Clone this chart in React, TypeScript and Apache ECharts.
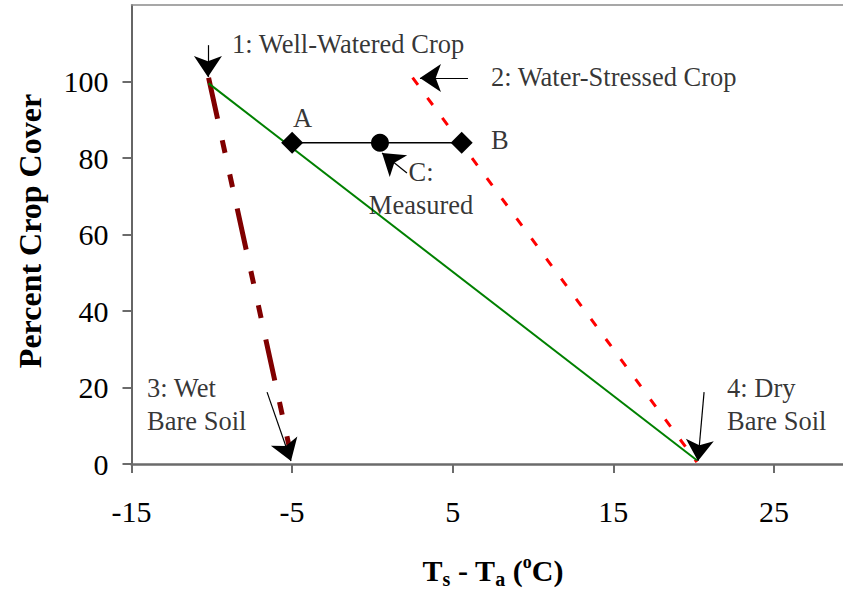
import React, { useEffect, useRef } from 'react';
import * as echarts from 'echarts';

const FONT = 'Liberation Serif, Times New Roman, serif';

// axis ticks
const xTicks = [-15, -5, 5, 15, 25];
const yTicks = [0, 20, 40, 60, 80, 100];

// lines
const wellWateredToDry = [[-10.2, 99.5], [20.2, 1]]; // green 1 -> 4
const wellWateredToWet = [[-10.2, 101], [-5.1, 3]]; // dark red 1 -> 3
const stressedToDry = [[2.5, 101], [20.2, 0.5]]; // red 2 -> 4

// points
const pointA = [-5, 84];
const pointB = [5.56, 84];
const pointC = [0.47, 84];

// annotation texts
const annoTexts = ['1: Well-Watered Crop', '2: Water-Stressed Crop', 'A', 'B', 'C:\nMeasured', '3: Wet\nBare Soil', '4: Dry\nBare Soil'];
const annoX = [-8.74, 7.38, -4.94, 7.38, 3.03, -14.03, 22.08];
const annoY = [109.8, 101.2, 90.5, 84.7, 71.9, 15.6, 15.6];
const annoCenter = [false, false, false, false, true, false, false];

// arrows: tail -> tip
const arrowTails = [[-10.24, 109.5], [5.95, 100.9], [-6.56, 18.8], [20.65, 18.8], [2.15, 76.1]];
const arrowTips = [[-10.24, 101.2], [2.96, 100.9], [-5.07, 0.8], [20.27, 0.8], [0.6, 81.3]];

export default function App() {
  const ref = useRef<HTMLDivElement>(null);
  useEffect(() => {
    if (!ref.current) return;
    const chart = echarts.init(ref.current, null, { renderer: 'svg' });
    const gridLeft = 131.5;
    const gridTop = 5;
    const gridBottomY = 464;
    const xMin = -15, xMax = 29.3;
    const option: any = {
      animation: false,
      backgroundColor: '#fff',
      textStyle: { fontFamily: FONT },
      grid: {
        left: gridLeft,
        top: gridTop,
        right: 0,
        height: gridBottomY - gridTop,
        show: false,
      },
      xAxis: [
        {
          type: 'value',
          min: xMin,
          max: xMax,
          interval: 5,
          splitLine: { show: false },
          axisLine: { show: true, onZero: false, lineStyle: { color: '#6b6b6b', width: 2.5 } },
          axisTick: { show: true, length: 9, inside: false, customValues: xTicks, lineStyle: { color: '#6b6b6b', width: 2 } },
          axisLabel: { show: true, customValues: xTicks, margin: 32, fontSize: 30, color: '#000', fontFamily: FONT },
        },
        {
          type: 'value',
          position: 'top',
          min: xMin,
          max: xMax,
          interval: 5,
          splitLine: { show: false },
          axisLine: { show: true, onZero: false, lineStyle: { color: '#8a8a8a', width: 1.5 } },
          axisTick: { show: false },
          axisLabel: { show: false },
        },
      ],
      yAxis: {
        type: 'value',
        min: 0,
        max: 120,
        interval: 20,
        splitLine: { show: false },
        axisLine: { show: true, onZero: false, lineStyle: { color: '#333', width: 1.5 } },
        axisTick: { show: true, length: 9, customValues: yTicks, lineStyle: { color: '#6b6b6b', width: 2 } },
        axisLabel: { show: true, customValues: yTicks, margin: 23, fontSize: 30, color: '#000', fontFamily: FONT },
      },
      graphic: [
        {
          type: 'text',
          x: 30,
          y: 231,
          rotation: Math.PI / 2,
          style: {
            text: 'Percent Crop Cover',
            font: `bold 32px ${FONT}`,
            fill: '#000',
            align: 'center',
            verticalAlign: 'middle',
          },
        },
        {
          type: 'text',
          x: 493,
          y: 570,
          style: {
            text: '{a|T}{s|s}{a| - T}{s|a}{a| (}{o|o}{a|C)}',
            align: 'center',
            verticalAlign: 'middle',
            fill: '#000',
            rich: {
              a: { fontFamily: FONT, fontWeight: 'bold', fontSize: 30, lineHeight: 36, fill: '#000' },
              s: { fontFamily: FONT, fontWeight: 'bold', fontSize: 20, lineHeight: 20, padding: [18, 0, 0, 0], fill: '#000' },
              o: { fontFamily: FONT, fontWeight: 'bold', fontSize: 18, lineHeight: 18, padding: [0, 0, 16, 0], fill: '#000' },
            },
          },
        },
      ],
      series: [
        {
          type: 'line',
          name: 'Stressed to dry',
          data: stressedToDry,
          symbol: 'none',
          lineStyle: { color: '#ff0000', width: 3, type: [9, 16], cap: 'butt' },
          silent: true,
          z: 2,
        },
        {
          type: 'line',
          name: 'Well-watered to wet',
          data: wellWateredToWet,
          symbol: 'none',
          lineStyle: { color: '#800000', width: 5, type: [42, 22, 13, 22, 13, 22], cap: 'butt' },
          silent: true,
          z: 2,
        },
        {
          type: 'line',
          name: 'Well-watered to dry',
          data: wellWateredToDry,
          symbol: 'none',
          lineStyle: { color: '#008000', width: 2 },
          silent: true,
          z: 3,
        },
        {
          type: 'line',
          name: 'A-B',
          data: [pointA, pointB],
          symbol: 'diamond',
          symbolSize: 22,
          showSymbol: true,
          itemStyle: { color: '#000', opacity: 1 },
          lineStyle: { color: '#000', width: 1.5 },
          silent: true,
          z: 4,
        },
        {
          type: 'scatter',
          name: 'C',
          data: [pointC],
          symbol: 'circle',
          symbolSize: 18,
          itemStyle: { color: '#000', opacity: 1 },
          silent: true,
          z: 5,
        },
        {
          type: 'scatter',
          name: 'annotations',
          symbolSize: 0,
          silent: true,
          z: 6,
          data: annoTexts.map((t, i) => ({
            value: [annoX[i], annoY[i]],
            label: {
              show: true,
              formatter: t,
              position: annoCenter[i] ? 'inside' : 'right',
              distance: 0,
              align: annoCenter[i] ? 'center' : 'left',
              verticalAlign: 'middle',
              fontFamily: FONT,
              fontSize: 26.5,
              lineHeight: 33,
              color: '#000',
            },
          })),
          markLine: {
            silent: true,
            symbol: ['none', 'arrow'],
            symbolSize: 21,
            label: { show: false },
            lineStyle: { color: '#000', width: 1.2, type: 'solid', opacity: 1 },
            itemStyle: { color: '#000' },
            emphasis: { disabled: true },
            data: arrowTails.map((t, i) => [{ coord: t }, { coord: arrowTips[i] }]),
          },
        },
      ],
    };
    chart.setOption(option);
    return () => chart.dispose();
  }, []);
  return (
    <div
      ref={ref}
      style={{ position: 'fixed', left: 0, top: 0, width: 843, height: 593, background: '#fff' }}
    />
  );
}
